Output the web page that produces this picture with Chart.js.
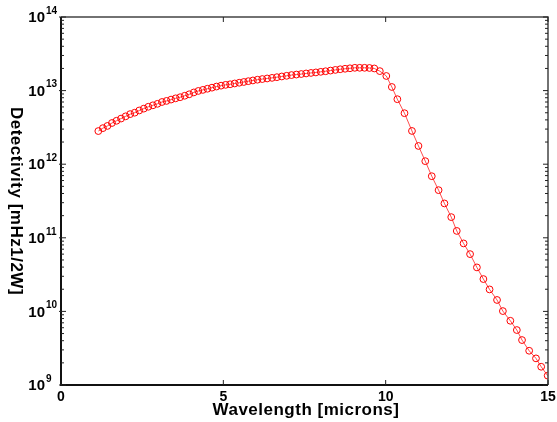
<!DOCTYPE html>
<html>
<head>
<meta charset="utf-8">
<script src="https://cdn.jsdelivr.net/npm/chart.js@4"></script>
<style>
  html, body { margin: 0; padding: 0; background: #fff; }
  canvas { display: block; }
</style>
</head>
<body>
<canvas id="chart" width="557" height="422"></canvas>
<script>
"use strict";

// wavelength in microns
const wavelength = [
  1.15, 1.29, 1.43, 1.57, 1.71, 1.85, 1.99, 2.13, 2.27, 2.41,
  2.55, 2.69, 2.83, 2.97, 3.11, 3.25, 3.39, 3.53, 3.67, 3.81,
  3.95, 4.09, 4.23, 4.37, 4.51, 4.65, 4.79, 4.93, 5.07, 5.21,
  5.35, 5.49, 5.63, 5.77, 5.91, 6.05, 6.20, 6.35, 6.50, 6.65,
  6.80, 6.95, 7.10, 7.25, 7.40, 7.55, 7.70, 7.85, 8.00, 8.15,
  8.30, 8.45, 8.60, 8.75, 8.90, 9.05, 9.20, 9.35, 9.50, 9.65,
  9.82, 10.02, 10.19, 10.36, 10.58, 10.81, 11.01, 11.22, 11.42, 11.63,
  11.81, 12.02, 12.19, 12.40, 12.60, 12.81, 13.01, 13.20, 13.43, 13.61,
  13.84, 14.04, 14.20, 14.42, 14.63, 14.79, 14.99,
];

// detectivity, same order
const detectivity = [
  2.82e12, 3.09e12, 3.31e12, 3.63e12, 3.89e12, 4.17e12, 4.47e12, 4.79e12, 5.01e12, 5.37e12,
  5.69e12, 6.03e12, 6.31e12, 6.61e12, 7.00e12, 7.24e12, 7.55e12, 7.85e12, 8.13e12, 8.51e12,
  8.91e12, 9.44e12, 9.89e12, 1.023e13, 1.06e13, 1.096e13, 1.135e13, 1.167e13, 1.197e13, 1.219e13,
  1.25e13, 1.279e13, 1.309e13, 1.343e13, 1.374e13, 1.406e13, 1.435e13, 1.462e13, 1.489e13, 1.521e13,
  1.556e13, 1.589e13, 1.626e13, 1.652e13, 1.679e13, 1.71e13, 1.738e13, 1.766e13, 1.799e13, 1.832e13,
  1.871e13, 1.91e13, 1.95e13, 1.98e13, 2.01e13, 2.04e13, 2.04e13, 2.04e13, 2.03e13, 2.0e13,
  1.84e13, 1.58e13, 1.12e13, 7.64e12, 4.93e12, 2.83e12, 1.77e12, 1.10e12, 6.87e11, 4.44e11,
  2.93e11, 1.91e11, 1.24e11, 8.39e10, 6.0e10, 3.96e10, 2.75e10, 1.99e10, 1.43e10, 1.01e10,
  7.46e9, 5.58e9, 4.08e9, 2.92e9, 2.30e9, 1.77e9, 1.34e9,
];

const xTicks = [0, 5, 10, 15];
const yExponents = [9, 10, 11, 12, 13, 14];
const minorFactors = [2, 3, 4, 5, 6, 7, 8, 9];

const xTitle = "Wavelength [microns]";
const yTitle = "Detectivity [mHz1/2W]";

const FONT = '"Liberation Sans", Arial, sans-serif';

// matlab-like box, inward ticks, superscript labels
const matlabAxes = {
  id: "matlabAxes",
  afterDraw(chart) {
    const ctx = chart.ctx;
    const { left, right, top, bottom } = chart.chartArea;
    const xs = chart.scales.x, ys = chart.scales.y;
    ctx.save();

    // box
    ctx.strokeStyle = "#444";
    ctx.lineWidth = 1.5;
    ctx.beginPath();
    ctx.moveTo(left, top); ctx.lineTo(right, top); ctx.lineTo(right, bottom);
    ctx.stroke();
    ctx.strokeStyle = "#111";
    ctx.lineWidth = 2;
    ctx.beginPath();
    ctx.moveTo(left, top); ctx.lineTo(left, bottom); ctx.lineTo(right, bottom);
    ctx.stroke();

    // y ticks
    ctx.lineWidth = 1;
    ctx.strokeStyle = "#222";
    ctx.beginPath();
    yExponents.forEach((e, i) => {
      const y = ys.getPixelForValue(Math.pow(10, e));
      ctx.moveTo(left - 2, y); ctx.lineTo(left + 5, y);
      ctx.moveTo(right, y); ctx.lineTo(right - 5, y);
      if (i < yExponents.length - 1) {
        minorFactors.forEach(f => {
          const ym = ys.getPixelForValue(f * Math.pow(10, e));
          ctx.moveTo(left, ym); ctx.lineTo(left + 3, ym);
          ctx.moveTo(right, ym); ctx.lineTo(right - 3, ym);
        });
      }
    });
    // x ticks
    xTicks.forEach(v => {
      const x = xs.getPixelForValue(v);
      ctx.moveTo(x, bottom); ctx.lineTo(x, bottom - 5);
      ctx.moveTo(x, top); ctx.lineTo(x, top + 5);
    });
    ctx.stroke();

    // y tick labels: 10^e
    ctx.fillStyle = "#000";
    yExponents.forEach(e => {
      const y = ys.getPixelForValue(Math.pow(10, e));
      ctx.font = `bold 15px ${FONT}`;
      ctx.textAlign = "right";
      ctx.textBaseline = "middle";
      ctx.fillText("10", left - 16, y + 1);
      ctx.font = `bold 10px ${FONT}`;
      ctx.textAlign = "left";
      ctx.fillText(String(e), left - 15, y - 6);
    });

    // x tick labels
    ctx.font = `bold 14px ${FONT}`;
    ctx.textAlign = "center";
    ctx.textBaseline = "middle";
    xTicks.forEach(v => {
      ctx.fillText(String(v), xs.getPixelForValue(v), bottom + 12);
    });

    // titles
    ctx.font = `bold 17px ${FONT}`;
    ctx.letterSpacing = "0.5px";
    ctx.textAlign = "center";
    ctx.textBaseline = "alphabetic";
    ctx.fillText(xTitle, 306, 415);

    ctx.translate(16, (top + bottom) / 2);
    ctx.rotate(Math.PI / 2);
    ctx.textBaseline = "middle";
    ctx.fillText(yTitle, 0, 0);

    ctx.restore();
  },
};

new Chart(document.getElementById("chart"), {
  type: "scatter",
  data: {
    datasets: [{
      data: wavelength.map((w, i) => ({ x: w, y: detectivity[i] })),
      showLine: true,
      borderColor: "#ff0000",
      borderWidth: 0.7,
      pointStyle: "circle",
      pointRadius: 3.4,
      pointBorderWidth: 1,
      pointBorderColor: "#ff0000",
      pointBackgroundColor: "rgba(0,0,0,0)",
    }],
  },
  options: {
    responsive: false,
    animation: false,
    devicePixelRatio: 1,
    layout: { padding: { left: 61, right: 9, top: 17, bottom: 37 } },
    scales: {
      x: { type: "linear", min: 0, max: 15, display: false },
      y: { type: "logarithmic", min: 1e9, max: 1e14, display: false },
    },
    plugins: { legend: { display: false }, tooltip: { enabled: false } },
  },
  plugins: [matlabAxes],
});
</script>
</body>
</html>
